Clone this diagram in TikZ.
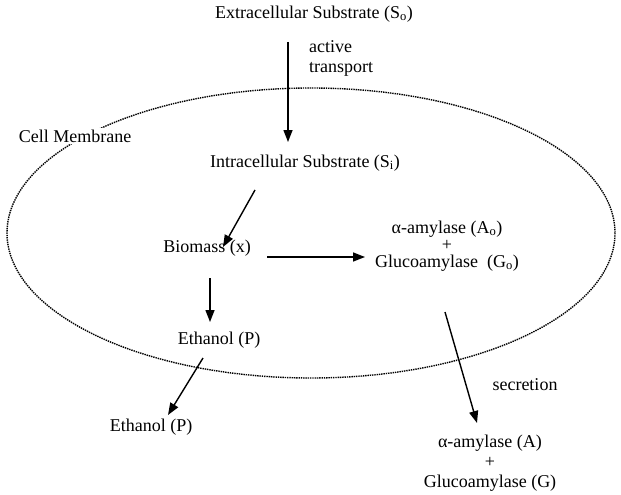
\documentclass[tikz,border=0pt]{standalone}
\usepackage{fontspec}
\setmainfont{Liberation Serif}
\usetikzlibrary{arrows.meta}

\begin{document}
\begin{tikzpicture}[x=1pt, y=-1pt,
  every node/.style={font=\fontsize{18}{20}\selectfont, inner sep=0pt},
  arr/.style={-{Triangle[length=12pt,width=9pt]}, line width=1.4pt},
  membrane/.style={line width=1.4pt, dash pattern=on 1.4pt off 0.9pt}]
\useasboundingbox (0,0) rectangle (621,495);

\draw[membrane] (311,233) ellipse [x radius=304, y radius=145];

\node (ext) at (314,14) {Extracellular Substrate (S\textsubscript{o})};
\node[anchor=west, align=left] (trans) at (309,58) {active\\transport};
\node[fill=white, inner sep=2pt] (cell) at (75,136) {Cell Membrane};
\node (intra) at (305,163) {Intracellular Substrate (S\textsubscript{i})};
\node (bio) at (207,248) {Biomass (x)};
\node[align=center] (enz) at (447,246) {α-amylase (A\textsubscript{o})\\[-3pt] +\\[-3pt] Glucoamylase\ \ (G\textsubscript{o})};
\node (eth) at (219,340) {Ethanol (P)};
\node (ethout) at (151,427) {Ethanol (P)};
\node (secr) at (525,385) {secretion};
\node[align=center] (enzout) at (490,463) {α-amylase (A)\\ +\\ Glucoamylase (G)};

\foreach \i/\sx/\sy/\j/\tx/\ty in {ext/-26/28/intra/-17/-21, intra/-50/27/bio/16/-1, bio/60/9/enz/-82/11, bio/3/30/eth/-9/-18, eth/-16/18/ethout/17/-12, enz/-2/66/enzout/-13/-40}
\draw[arr] ([shift={(\sx,\sy)}]\i.center) -- ([shift={(\tx,\ty)}]\j.center);

\end{tikzpicture}
\end{document}
